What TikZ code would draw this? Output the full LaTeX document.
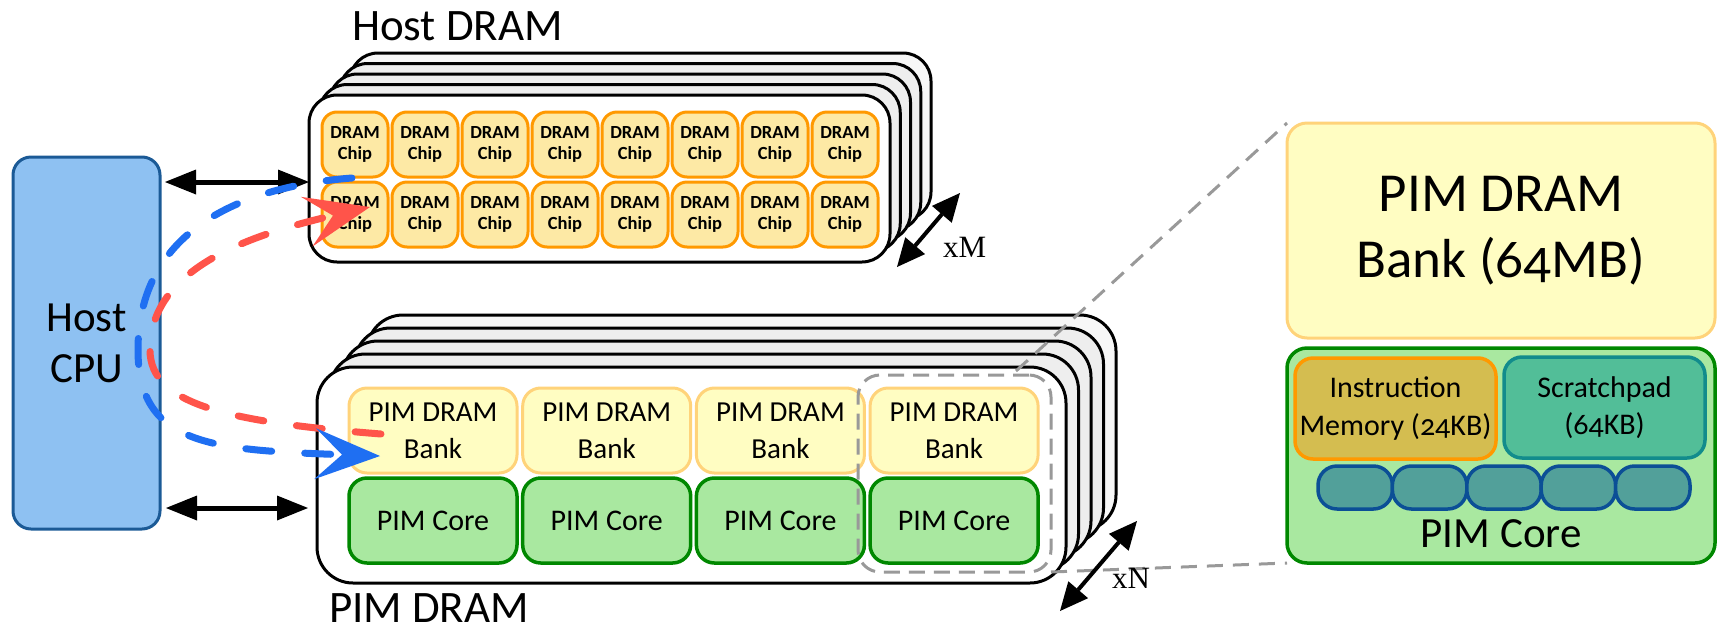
\documentclass[tikz,border=0pt]{standalone}
\usepackage{fontspec}
\setmainfont{Carlito}[Numbers=OldStyle]
\newfontfamily\xfont{Liberation Serif}
\usetikzlibrary{arrows.meta}
\definecolor{cpufill}{RGB}{142,193,242}
\definecolor{cpudraw}{RGB}{27,90,150}
\definecolor{chipfill}{RGB}{253,233,165}
\definecolor{chipdraw}{RGB}{255,153,0}
\definecolor{bankfill}{RGB}{255,253,194}
\definecolor{bankdraw}{RGB}{255,211,122}
\definecolor{corefill}{RGB}{169,232,160}
\definecolor{coredraw}{RGB}{0,136,0}
\definecolor{instfill}{RGB}{212,189,80}
\definecolor{instdraw}{RGB}{255,153,0}
\definecolor{scrfill}{RGB}{82,190,152}
\definecolor{scrdraw}{RGB}{18,140,140}
\definecolor{regfill}{RGB}{82,160,154}
\definecolor{regdraw}{RGB}{11,79,150}
\definecolor{redc}{RGB}{255,84,74}
\definecolor{bluec}{RGB}{31,111,242}
\definecolor{zgray}{RGB}{153,153,153}
\tikzset{
  every node/.style={inner sep=0pt, outer sep=0pt},
  cpubox/.style={draw=cpudraw, fill=cpufill, line width=3pt, rounded corners=18pt,
    minimum width=147pt, minimum height=372pt, anchor=north west, align=center,
    font=\fontsize{43}{51}\selectfont},
  hlayer/.style={draw=black, line width=3pt, rounded corners=28pt,
    minimum width=581pt, minimum height=167pt, anchor=north west},
  player/.style={draw=black, line width=3pt, rounded corners=36pt,
    minimum width=749pt, minimum height=216pt, anchor=north west},
  chip/.style={draw=chipdraw, fill=chipfill, line width=3pt, rounded corners=15pt,
    minimum width=66pt, minimum height=65pt, anchor=north west, align=center,
    font=\bfseries\fontsize{18.5}{21.6}\selectfont},
  bank/.style={draw=bankdraw, fill=bankfill, line width=3pt, rounded corners=18pt,
    minimum width=168pt, minimum height=85pt, anchor=north west, align=center,
    font=\fontsize{29}{36.6}\selectfont},
  core/.style={draw=coredraw, fill=corefill, line width=3.5pt, rounded corners=18pt,
    minimum width=168pt, minimum height=85pt, anchor=north west,
    font=\fontsize{30}{36}\selectfont},
  zrect/.style={draw=zgray, line width=3pt, dash pattern=on 16pt off 9pt, rounded corners=22pt,
    minimum width=193pt, minimum height=197pt, anchor=north west},
  zline/.style={draw=zgray, line width=3pt, dash pattern=on 16pt off 10pt},
  bigbank/.style={draw=bankdraw, fill=bankfill, line width=3pt, rounded corners=20pt,
    minimum width=428pt, minimum height=215pt, anchor=north west, align=center,
    font=\fontsize{55}{66}\selectfont},
  bigcore/.style={draw=coredraw, fill=corefill, line width=3.5pt, rounded corners=20pt,
    minimum width=428pt, minimum height=215pt, anchor=north west},
  inst/.style={draw=instdraw, fill=instfill, line width=3.5pt, rounded corners=18pt,
    minimum width=201pt, minimum height=101pt, anchor=north west, align=center,
    font=\fontsize{30}{37.3}\selectfont},
  scr/.style={draw=scrdraw, fill=scrfill, line width=3.5pt, rounded corners=18pt,
    minimum width=201pt, minimum height=101pt, anchor=north west, align=center,
    font=\fontsize{30}{37.3}\selectfont},
  reg/.style={draw=regdraw, fill=regfill, line width=3.5pt, rounded corners=19pt,
    minimum width=74.4pt, minimum height=43pt, anchor=north west},
  lbl/.style={font=\fontsize{45}{45}\selectfont, anchor=base west, text depth=0pt},
  multlbl/.style={font=\xfont\fontsize{31}{31}\selectfont, anchor=base west},
  dbl/.style={draw=black, line width=5pt,
    {Triangle[length=31pt,width=25pt,line width=0pt]}-{Triangle[length=31pt,width=25pt,line width=0pt]}},
  dblm/.style={draw=black, line width=4pt,
    {Triangle[length=28pt,width=26pt,line width=0pt]}-{Triangle[length=28pt,width=26pt,line width=0pt]}},
  redflow/.style={draw=redc, line width=7pt, line cap=round, dash pattern=on 26pt off 33pt,
    -{Stealth[length=65pt,width=51pt,inset=27pt,line width=0pt,fill=redc]}},
  blueflow/.style={draw=bluec, line width=7pt, line cap=round, dash pattern=on 26pt off 33pt,
    -{Stealth[length=65pt,width=51pt,inset=27pt,line width=0pt,fill=bluec]}},
}
\begin{document}
\begin{tikzpicture}[x=1pt,y=-1pt]
\useasboundingbox (0,0) rectangle (1717,630);
% Host CPU
\node[cpubox] (cpu) at (13,157) {Host\\CPU};
% Host DRAM stack
\foreach \i/\f in {4/gray!6,3/gray!13,2/gray!13,1/gray!13}
  \node[hlayer, fill=\f] (hl\i) at ({309+10.25*\i},{95-10.5*\i}) {};
\node[hlayer, fill=white] (hfront) at (309,95) {};
\foreach \c in {0,...,7}{
  \node[chip] (chipA\c) at ({322+70*\c},112) {DRAM\\Chip};
  \node[chip] (chipB\c) at ({322+70*\c},182) {DRAM\\Chip};
}
\node[lbl] (hlabel) at (352,40) {Host DRAM};
% PIM DRAM stack
\foreach \i/\f in {4/gray!6,3/gray!13,2/gray!13,1/gray!13}
  \node[player, fill=\f] (pl\i) at ({317+12.5*\i},{367-13*\i}) {};
\node[player, fill=white] (pfront) at (317,367) {};
\foreach \i in {0,...,3}{
  \node[bank] (bank\i) at ({349+173.7*\i},388) {PIM DRAM\\Bank};
  \node[core] (core\i) at ({349+173.7*\i},478) {PIM Core};
}
\node[lbl] (plabel) at (329,622) {PIM DRAM};
\node[zrect] (zr) at (858,375) {};
% detail
\node[bigbank] (bb) at (1287,123) {PIM DRAM\\Bank (64MB)};
\node[bigcore] (bc) at (1287,348) {};
\node[inst] (im) at (1295,358) {Instruction\\Memory (24KB)};
\node[scr] (sp) at (1504,357) {Scratchpad\\(64KB)};
\foreach \k in {0,...,4}
  \node[reg] (r\k) at ({1318+74.4*\k},466) {};
\node[font=\fontsize{43}{43}\selectfont, anchor=base] (bclabel) at (1501,547) {PIM Core};
% zoom lines
\coordinate (zt) at (1016,371);
\draw[zline] (zt) -- (bb.north west);
\draw[zline] (zr.south east) -- (bc.south west);
% multiplicity arrows
\coordinate (xm1) at (960,193);
\coordinate (xm2) at (897,267);
\draw[dblm] (xm1) -- (xm2);
\node[multlbl] (xm) at (943,257) {xM};
\coordinate (xn1) at (1137,521);
\coordinate (xn2) at (1060,611);
\draw[dblm] (xn1) -- (xn2);
\node[multlbl] (xn) at (1112,588) {xN};
% buses
\draw[dbl, shorten <=5pt] (cpu.east |- 0,182) -- (hfront.west |- 0,182);
\draw[dbl, shorten <=6pt, shorten >=9pt] (cpu.east |- 0,508) -- (pfront.west |- 0,508);
% data movement
\coordinate (rs) at (381,434);
\coordinate (rm) at (150,350);
\coordinate (re) at (370,207);
\draw[redflow] (rs) .. controls (230,422) and (150,405) .. (rm)
  .. controls (150,270) and (245,236) .. (re);
\coordinate (bs) at (352,178);
\coordinate (bm) at (138,350);
\coordinate (be) at (380,456);
\draw[blueflow] (bs) .. controls (260,185) and (138,220) .. (bm)
  .. controls (138,445) and (210,450) .. (be);
\end{tikzpicture}
\end{document}
